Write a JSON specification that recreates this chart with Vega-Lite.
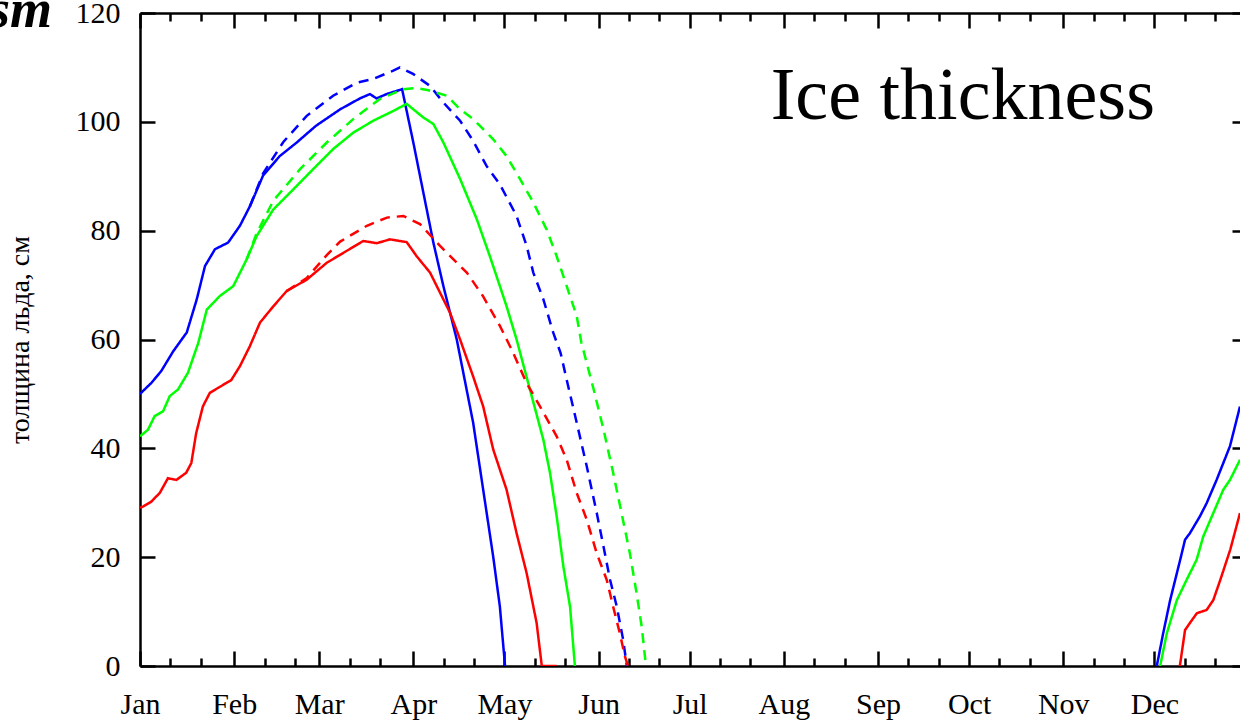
{
  "$schema": "https://vega.github.io/schema/vega-lite/v6.json",
  "width": 1100,
  "height": 653,
  "autosize": {"type": "none"},
  "padding": {"left": 140, "top": 13, "right": 0, "bottom": 58},
  "background": "white",
  "config": {
    "view": {"stroke": null},
    "axis": {
      "domainColor": "black", "tickColor": "black", "labelColor": "black",
      "labelFont": "Liberation Serif", "labelFontSize": 30, "grid": false,
      "domainWidth": 2.5, "tickWidth": 2.5, "labelFlush": false, "labelOverlap": false, "labelBound": false
    }
  },
  "datasets": {
    "ice": [
      {"color":"blue","style":"solid","part":"a","day":0,"thickness":50},
      {"color":"blue","style":"solid","part":"a","day":3.7,"thickness":52},
      {"color":"blue","style":"solid","part":"a","day":7,"thickness":54.2},
      {"color":"blue","style":"solid","part":"a","day":10.9,"thickness":57.8},
      {"color":"blue","style":"solid","part":"a","day":15.4,"thickness":61.3},
      {"color":"blue","style":"solid","part":"a","day":18.7,"thickness":67.4},
      {"color":"blue","style":"solid","part":"a","day":21.4,"thickness":73.5},
      {"color":"blue","style":"solid","part":"a","day":24.7,"thickness":76.6},
      {"color":"blue","style":"solid","part":"a","day":29,"thickness":77.8},
      {"color":"blue","style":"solid","part":"a","day":32.9,"thickness":80.9},
      {"color":"blue","style":"solid","part":"a","day":36.2,"thickness":84.5},
      {"color":"blue","style":"solid","part":"a","day":40.5,"thickness":90.1},
      {"color":"blue","style":"solid","part":"a","day":46,"thickness":93.7},
      {"color":"blue","style":"solid","part":"a","day":51.6,"thickness":96.2},
      {"color":"blue","style":"solid","part":"a","day":58,"thickness":99.3},
      {"color":"blue","style":"solid","part":"a","day":65.9,"thickness":102.3},
      {"color":"blue","style":"solid","part":"a","day":72.4,"thickness":104.3},
      {"color":"blue","style":"solid","part":"a","day":75.7,"thickness":105.1},
      {"color":"blue","style":"solid","part":"a","day":77.9,"thickness":104.3},
      {"color":"blue","style":"solid","part":"a","day":81.2,"thickness":105.1},
      {"color":"blue","style":"solid","part":"a","day":86.3,"thickness":106},
      {"color":"blue","style":"solid","part":"a","day":90,"thickness":96.2},
      {"color":"blue","style":"solid","part":"a","day":93.3,"thickness":87},
      {"color":"blue","style":"solid","part":"a","day":96.6,"thickness":77.8},
      {"color":"blue","style":"solid","part":"a","day":99.9,"thickness":69.8},
      {"color":"blue","style":"solid","part":"a","day":104.3,"thickness":60},
      {"color":"blue","style":"solid","part":"a","day":109.7,"thickness":44.7},
      {"color":"blue","style":"solid","part":"a","day":113,"thickness":32.4},
      {"color":"blue","style":"solid","part":"a","day":116.3,"thickness":20.1},
      {"color":"blue","style":"solid","part":"a","day":118.5,"thickness":10.9},
      {"color":"blue","style":"solid","part":"a","day":120.2,"thickness":0},
      {"color":"blue","style":"solid","part":"b","day":334.8,"thickness":0},
      {"color":"blue","style":"solid","part":"b","day":336.9,"thickness":6},
      {"color":"blue","style":"solid","part":"b","day":339.2,"thickness":12.1},
      {"color":"blue","style":"solid","part":"b","day":342.5,"thickness":19.5},
      {"color":"blue","style":"solid","part":"b","day":344.1,"thickness":23.2},
      {"color":"blue","style":"solid","part":"b","day":345.7,"thickness":24.4},
      {"color":"blue","style":"solid","part":"b","day":349,"thickness":27.5},
      {"color":"blue","style":"solid","part":"b","day":351.2,"thickness":29.9},
      {"color":"blue","style":"solid","part":"b","day":354.5,"thickness":34.2},
      {"color":"blue","style":"solid","part":"b","day":358.9,"thickness":40.4},
      {"color":"blue","style":"solid","part":"b","day":362.2,"thickness":47.7},
      {"color":"green","style":"solid","part":"a","day":0,"thickness":42.2},
      {"color":"green","style":"solid","part":"a","day":2.6,"thickness":43.4},
      {"color":"green","style":"solid","part":"a","day":4.8,"thickness":45.9},
      {"color":"green","style":"solid","part":"a","day":7.6,"thickness":46.8},
      {"color":"green","style":"solid","part":"a","day":9.8,"thickness":49.6},
      {"color":"green","style":"solid","part":"a","day":12.5,"thickness":50.8},
      {"color":"green","style":"solid","part":"a","day":15.8,"thickness":53.9},
      {"color":"green","style":"solid","part":"a","day":19.2,"thickness":59.4},
      {"color":"green","style":"solid","part":"a","day":22,"thickness":65.5},
      {"color":"green","style":"solid","part":"a","day":26.3,"thickness":68},
      {"color":"green","style":"solid","part":"a","day":30.7,"thickness":69.8},
      {"color":"green","style":"solid","part":"a","day":35.1,"thickness":74.7},
      {"color":"green","style":"solid","part":"a","day":38.4,"thickness":79},
      {"color":"green","style":"solid","part":"a","day":43.9,"thickness":83.9},
      {"color":"green","style":"solid","part":"a","day":50.5,"thickness":87.6},
      {"color":"green","style":"solid","part":"a","day":57,"thickness":91.3},
      {"color":"green","style":"solid","part":"a","day":63.6,"thickness":95},
      {"color":"green","style":"solid","part":"a","day":70.2,"thickness":98},
      {"color":"green","style":"solid","part":"a","day":76.8,"thickness":100.2},
      {"color":"green","style":"solid","part":"a","day":83.4,"thickness":102},
      {"color":"green","style":"solid","part":"a","day":87.8,"thickness":103.3},
      {"color":"green","style":"solid","part":"a","day":93.3,"thickness":100.8},
      {"color":"green","style":"solid","part":"a","day":96.6,"thickness":99.6},
      {"color":"green","style":"solid","part":"a","day":99.9,"thickness":96.2},
      {"color":"green","style":"solid","part":"a","day":105.4,"thickness":89.5},
      {"color":"green","style":"solid","part":"a","day":110.9,"thickness":82.1},
      {"color":"green","style":"solid","part":"a","day":115.2,"thickness":75.3},
      {"color":"green","style":"solid","part":"a","day":118.5,"thickness":69.8},
      {"color":"green","style":"solid","part":"a","day":120.7,"thickness":66.1},
      {"color":"green","style":"solid","part":"a","day":124,"thickness":60},
      {"color":"green","style":"solid","part":"a","day":128.4,"thickness":50.8},
      {"color":"green","style":"solid","part":"a","day":132.8,"thickness":41.6},
      {"color":"green","style":"solid","part":"a","day":135,"thickness":35.5},
      {"color":"green","style":"solid","part":"a","day":137.2,"thickness":27.5},
      {"color":"green","style":"solid","part":"a","day":139.4,"thickness":18.3},
      {"color":"green","style":"solid","part":"a","day":141.6,"thickness":10.9},
      {"color":"green","style":"solid","part":"a","day":143.2,"thickness":0},
      {"color":"green","style":"solid","part":"b","day":335.9,"thickness":0},
      {"color":"green","style":"solid","part":"b","day":338.1,"thickness":6},
      {"color":"green","style":"solid","part":"b","day":341.4,"thickness":12.1},
      {"color":"green","style":"solid","part":"b","day":344.6,"thickness":15.8},
      {"color":"green","style":"solid","part":"b","day":347.9,"thickness":19.5},
      {"color":"green","style":"solid","part":"b","day":350.1,"thickness":23.8},
      {"color":"green","style":"solid","part":"b","day":353.4,"thickness":28.1},
      {"color":"green","style":"solid","part":"b","day":356.7,"thickness":32.4},
      {"color":"green","style":"solid","part":"b","day":358.9,"thickness":34.2},
      {"color":"green","style":"solid","part":"b","day":362.2,"thickness":37.9},
      {"color":"red","style":"solid","part":"a","day":0,"thickness":29.1},
      {"color":"red","style":"solid","part":"a","day":1,"thickness":29.3},
      {"color":"red","style":"solid","part":"a","day":3.7,"thickness":30.2},
      {"color":"red","style":"solid","part":"a","day":6.5,"thickness":31.8},
      {"color":"red","style":"solid","part":"a","day":9.2,"thickness":34.5},
      {"color":"red","style":"solid","part":"a","day":12,"thickness":34.2},
      {"color":"red","style":"solid","part":"a","day":15.2,"thickness":35.5},
      {"color":"red","style":"solid","part":"a","day":16.9,"thickness":37.3},
      {"color":"red","style":"solid","part":"a","day":18.5,"thickness":42.8},
      {"color":"red","style":"solid","part":"a","day":20.7,"thickness":47.7},
      {"color":"red","style":"solid","part":"a","day":23,"thickness":50.2},
      {"color":"red","style":"solid","part":"a","day":25.7,"thickness":51.1},
      {"color":"red","style":"solid","part":"a","day":28.4,"thickness":52},
      {"color":"red","style":"solid","part":"a","day":30,"thickness":52.5},
      {"color":"red","style":"solid","part":"a","day":32.9,"thickness":55.1},
      {"color":"red","style":"solid","part":"a","day":36.2,"thickness":58.8},
      {"color":"red","style":"solid","part":"a","day":39.5,"thickness":63.1},
      {"color":"red","style":"solid","part":"a","day":43.9,"thickness":66.1},
      {"color":"red","style":"solid","part":"a","day":48.3,"thickness":68.9},
      {"color":"red","style":"solid","part":"a","day":54.9,"thickness":71},
      {"color":"red","style":"solid","part":"a","day":61.5,"thickness":74.1},
      {"color":"red","style":"solid","part":"a","day":68.1,"thickness":76.3},
      {"color":"red","style":"solid","part":"a","day":73.5,"thickness":78.1},
      {"color":"red","style":"solid","part":"a","day":78,"thickness":77.7},
      {"color":"red","style":"solid","part":"a","day":82.3,"thickness":78.4},
      {"color":"red","style":"solid","part":"a","day":87.8,"thickness":77.9},
      {"color":"red","style":"solid","part":"a","day":91.1,"thickness":75.3},
      {"color":"red","style":"solid","part":"a","day":95.5,"thickness":72.3},
      {"color":"red","style":"solid","part":"a","day":98.8,"thickness":68.6},
      {"color":"red","style":"solid","part":"a","day":102.1,"thickness":64.9},
      {"color":"red","style":"solid","part":"a","day":105.4,"thickness":60},
      {"color":"red","style":"solid","part":"a","day":109.7,"thickness":53.2},
      {"color":"red","style":"solid","part":"a","day":113,"thickness":47.7},
      {"color":"red","style":"solid","part":"a","day":116.3,"thickness":39.8},
      {"color":"red","style":"solid","part":"a","day":120.7,"thickness":32.4},
      {"color":"red","style":"solid","part":"a","day":124,"thickness":24.4},
      {"color":"red","style":"solid","part":"a","day":127.3,"thickness":17.1},
      {"color":"red","style":"solid","part":"a","day":130.6,"thickness":7.9},
      {"color":"red","style":"solid","part":"a","day":132.3,"thickness":0},
      {"color":"red","style":"solid","part":"a","day":137.2,"thickness":0},
      {"color":"red","style":"solid","part":"b","day":342.4,"thickness":0},
      {"color":"red","style":"solid","part":"b","day":344.1,"thickness":6.6},
      {"color":"red","style":"solid","part":"b","day":345.7,"thickness":7.9},
      {"color":"red","style":"solid","part":"b","day":348,"thickness":9.7},
      {"color":"red","style":"solid","part":"b","day":351.2,"thickness":10.3},
      {"color":"red","style":"solid","part":"b","day":353.4,"thickness":12.1},
      {"color":"red","style":"solid","part":"b","day":355.7,"thickness":15.8},
      {"color":"red","style":"solid","part":"b","day":359,"thickness":21.4},
      {"color":"red","style":"solid","part":"b","day":362.2,"thickness":28.1},
      {"color":"blue","style":"dashed","part":"a","day":36.2,"thickness":84.5},
      {"color":"blue","style":"dashed","part":"a","day":40.5,"thickness":90.5},
      {"color":"blue","style":"dashed","part":"a","day":47.2,"thickness":96.3},
      {"color":"blue","style":"dashed","part":"a","day":54.9,"thickness":101.1},
      {"color":"blue","style":"dashed","part":"a","day":63.6,"thickness":104.8},
      {"color":"blue","style":"dashed","part":"a","day":71.4,"thickness":107.2},
      {"color":"blue","style":"dashed","part":"a","day":76.8,"thickness":107.9},
      {"color":"blue","style":"dashed","part":"a","day":83.4,"thickness":109.4},
      {"color":"blue","style":"dashed","part":"a","day":85.6,"thickness":110},
      {"color":"blue","style":"dashed","part":"a","day":89.9,"thickness":108.8},
      {"color":"blue","style":"dashed","part":"a","day":95.5,"thickness":106.6},
      {"color":"blue","style":"dashed","part":"a","day":99.8,"thickness":103.6},
      {"color":"blue","style":"dashed","part":"a","day":105.4,"thickness":100.2},
      {"color":"blue","style":"dashed","part":"a","day":109.7,"thickness":96.5},
      {"color":"blue","style":"dashed","part":"a","day":114.1,"thickness":91.9},
      {"color":"blue","style":"dashed","part":"a","day":118.5,"thickness":88.5},
      {"color":"blue","style":"dashed","part":"a","day":124,"thickness":82.7},
      {"color":"blue","style":"dashed","part":"a","day":127.3,"thickness":77.2},
      {"color":"blue","style":"dashed","part":"a","day":129.5,"thickness":72.3},
      {"color":"blue","style":"dashed","part":"a","day":132.8,"thickness":67.4},
      {"color":"blue","style":"dashed","part":"a","day":136.1,"thickness":61.2},
      {"color":"blue","style":"dashed","part":"a","day":138.5,"thickness":57.5},
      {"color":"blue","style":"dashed","part":"a","day":140.5,"thickness":52.6},
      {"color":"blue","style":"dashed","part":"a","day":143.8,"thickness":44.7},
      {"color":"blue","style":"dashed","part":"a","day":147.1,"thickness":36.7},
      {"color":"blue","style":"dashed","part":"a","day":150.4,"thickness":28.1},
      {"color":"blue","style":"dashed","part":"a","day":152.6,"thickness":22},
      {"color":"blue","style":"dashed","part":"a","day":154.8,"thickness":15.8},
      {"color":"blue","style":"dashed","part":"a","day":157,"thickness":10.9},
      {"color":"blue","style":"dashed","part":"a","day":159.1,"thickness":4.8},
      {"color":"blue","style":"dashed","part":"a","day":160.3,"thickness":0},
      {"color":"green","style":"dashed","part":"a","day":35.1,"thickness":74.7},
      {"color":"green","style":"dashed","part":"a","day":38.4,"thickness":79.5},
      {"color":"green","style":"dashed","part":"a","day":43.9,"thickness":85.5},
      {"color":"green","style":"dashed","part":"a","day":52.7,"thickness":91.3},
      {"color":"green","style":"dashed","part":"a","day":61.5,"thickness":96.2},
      {"color":"green","style":"dashed","part":"a","day":70.2,"thickness":100.5},
      {"color":"green","style":"dashed","part":"a","day":79,"thickness":104.2},
      {"color":"green","style":"dashed","part":"a","day":86.7,"thickness":106},
      {"color":"green","style":"dashed","part":"a","day":91.1,"thickness":106.2},
      {"color":"green","style":"dashed","part":"a","day":95,"thickness":105.8},
      {"color":"green","style":"dashed","part":"a","day":101,"thickness":104.8},
      {"color":"green","style":"dashed","part":"a","day":105.4,"thickness":102.3},
      {"color":"green","style":"dashed","part":"a","day":109.7,"thickness":100.5},
      {"color":"green","style":"dashed","part":"a","day":116.3,"thickness":96.8},
      {"color":"green","style":"dashed","part":"a","day":120.7,"thickness":93.7},
      {"color":"green","style":"dashed","part":"a","day":125.1,"thickness":89.5},
      {"color":"green","style":"dashed","part":"a","day":129.5,"thickness":85.2},
      {"color":"green","style":"dashed","part":"a","day":133.9,"thickness":80.2},
      {"color":"green","style":"dashed","part":"a","day":137.2,"thickness":75.3},
      {"color":"green","style":"dashed","part":"a","day":140.5,"thickness":69.8},
      {"color":"green","style":"dashed","part":"a","day":143.8,"thickness":64.3},
      {"color":"green","style":"dashed","part":"a","day":145.3,"thickness":59.5},
      {"color":"green","style":"dashed","part":"a","day":149.3,"thickness":51},
      {"color":"green","style":"dashed","part":"a","day":152.6,"thickness":43.5},
      {"color":"green","style":"dashed","part":"a","day":155.8,"thickness":35.5},
      {"color":"green","style":"dashed","part":"a","day":158.6,"thickness":28},
      {"color":"green","style":"dashed","part":"a","day":161.3,"thickness":20.7},
      {"color":"green","style":"dashed","part":"a","day":163.5,"thickness":13.4},
      {"color":"green","style":"dashed","part":"a","day":165.2,"thickness":7.2},
      {"color":"green","style":"dashed","part":"a","day":166.6,"thickness":0},
      {"color":"red","style":"dashed","part":"a","day":48.3,"thickness":68.9},
      {"color":"red","style":"dashed","part":"a","day":54.9,"thickness":71.3},
      {"color":"red","style":"dashed","part":"a","day":61.5,"thickness":75.5},
      {"color":"red","style":"dashed","part":"a","day":65.9,"thickness":78},
      {"color":"red","style":"dashed","part":"a","day":74.7,"thickness":80.9},
      {"color":"red","style":"dashed","part":"a","day":81.3,"thickness":82.4},
      {"color":"red","style":"dashed","part":"a","day":86.7,"thickness":82.7},
      {"color":"red","style":"dashed","part":"a","day":92.2,"thickness":81.2},
      {"color":"red","style":"dashed","part":"a","day":98.8,"thickness":77.2},
      {"color":"red","style":"dashed","part":"a","day":105.4,"thickness":73.5},
      {"color":"red","style":"dashed","part":"a","day":107.6,"thickness":72.3},
      {"color":"red","style":"dashed","part":"a","day":112.9,"thickness":68},
      {"color":"red","style":"dashed","part":"a","day":118.5,"thickness":62.5},
      {"color":"red","style":"dashed","part":"a","day":122.5,"thickness":58},
      {"color":"red","style":"dashed","part":"a","day":127.3,"thickness":52},
      {"color":"red","style":"dashed","part":"a","day":131.7,"thickness":47.7},
      {"color":"red","style":"dashed","part":"a","day":137.2,"thickness":42.2},
      {"color":"red","style":"dashed","part":"a","day":140.5,"thickness":37.9},
      {"color":"red","style":"dashed","part":"a","day":143.8,"thickness":31.8},
      {"color":"red","style":"dashed","part":"a","day":147.1,"thickness":26.9},
      {"color":"red","style":"dashed","part":"a","day":150.4,"thickness":20.7},
      {"color":"red","style":"dashed","part":"a","day":153.7,"thickness":15.8},
      {"color":"red","style":"dashed","part":"a","day":155.8,"thickness":10.9},
      {"color":"red","style":"dashed","part":"a","day":158,"thickness":6},
      {"color":"red","style":"dashed","part":"a","day":159.7,"thickness":1.7},
      {"color":"red","style":"dashed","part":"a","day":160.7,"thickness":0}
    ],
    "big": [{"label": "Ice thickness", "day": 334.2, "thickness": 100.5}],
    "corner": [{"label": "sm", "day": -29, "thickness": 117.4}]
  },
  "resolve": {"axis": {"x": "independent", "y": "independent"}},
  "layer": [
    {
      "data": {"name": "ice"},
      "mark": {"type": "line", "strokeWidth": 2.5, "clip": true},
      "encoding": {
        "x": {"field": "day", "type": "quantitative",
          "scale": {"domain": [0, 362.2], "nice": false, "zero": false},
          "axis": {"orient": "bottom", "title": null,
            "values": [0, 31, 59, 90, 120, 151, 181, 212, 243, 273, 304, 334],
            "labelExpr": "timeFormat(datetime(2001, 0, 1 + datum.value), '%b')",
            "tickSize": -15, "labelPadding": 38}},
        "y": {"field": "thickness", "type": "quantitative",
          "scale": {"domain": [0, 120], "nice": false},
          "axis": {"orient": "left", "values": [0, 20, 40, 60, 80, 100, 120],
            "tickSize": -15, "labelPadding": 35,
            "title": "толщина льда, см", "titleFont": "Liberation Serif", "titleFontSize": 28,
            "titleFontWeight": "normal", "titleColor": "black",
            "titleX": -120, "titleY": 326.5, "titleAngle": -90, "titleBaseline": "middle", "titleAlign": "center"}},
        "color": {"field": "color", "type": "nominal",
          "scale": {"domain": ["blue", "green", "red"], "range": ["#0000ff", "#00ff00", "#ff0000"]}, "legend": null},
        "strokeDash": {"field": "style", "type": "nominal",
          "scale": {"domain": ["solid", "dashed"], "range": [[1, 0], [10, 7]]}, "legend": null},
        "detail": {"field": "part"}
      }
    },
    {
      "data": {"name": "ice"},
      "mark": {"type": "point", "opacity": 0},
      "encoding": {
        "x": {"field": "day", "type": "quantitative",
          "axis": {"orient": "bottom", "title": null, "labels": false, "domain": false, "tickSize": -8,
            "values": [10, 20, 41, 51, 69, 79, 100, 110, 130, 140, 161, 171, 191, 201, 222, 232, 253, 263, 283, 293, 314, 324, 344, 354]}},
        "y": {"field": "thickness", "type": "quantitative",
          "axis": {"orient": "right", "title": null, "labels": false, "domain": false, "tickSize": -8,
            "values": [0, 20, 40, 60, 80, 100, 120]}}
      }
    },
    {
      "data": {"name": "ice"},
      "mark": {"type": "point", "opacity": 0},
      "encoding": {
        "x": {"field": "day", "type": "quantitative",
          "axis": {"orient": "top", "title": null, "labels": false, "tickSize": -15,
            "values": [0, 31, 59, 90, 120, 151, 181, 212, 243, 273, 304, 334]}},
        "y": {"field": "thickness", "type": "quantitative", "axis": null}
      }
    },
    {
      "data": {"name": "ice"},
      "mark": {"type": "point", "opacity": 0},
      "encoding": {
        "x": {"field": "day", "type": "quantitative",
          "axis": {"orient": "top", "title": null, "labels": false, "domain": false, "tickSize": -8,
            "values": [10, 20, 41, 51, 69, 79, 100, 110, 130, 140, 161, 171, 191, 201, 222, 232, 253, 263, 283, 293, 314, 324, 344, 354]}},
        "y": {"field": "thickness", "type": "quantitative", "axis": null}
      }
    },
    {
      "data": {"name": "big"},
      "mark": {"type": "text", "font": "Liberation Serif", "fontSize": 74, "align": "right", "baseline": "alphabetic", "color": "black"},
      "encoding": {
        "x": {"field": "day", "type": "quantitative", "axis": null},
        "y": {"field": "thickness", "type": "quantitative", "axis": null},
        "text": {"field": "label"}
      }
    },
    {
      "data": {"name": "corner"},
      "mark": {"type": "text", "font": "Liberation Serif", "fontSize": 54, "fontStyle": "italic", "fontWeight": "bold", "align": "right", "baseline": "alphabetic", "color": "black"},
      "encoding": {
        "x": {"field": "day", "type": "quantitative", "axis": null},
        "y": {"field": "thickness", "type": "quantitative", "axis": null},
        "text": {"field": "label"}
      }
    }
  ]
}
